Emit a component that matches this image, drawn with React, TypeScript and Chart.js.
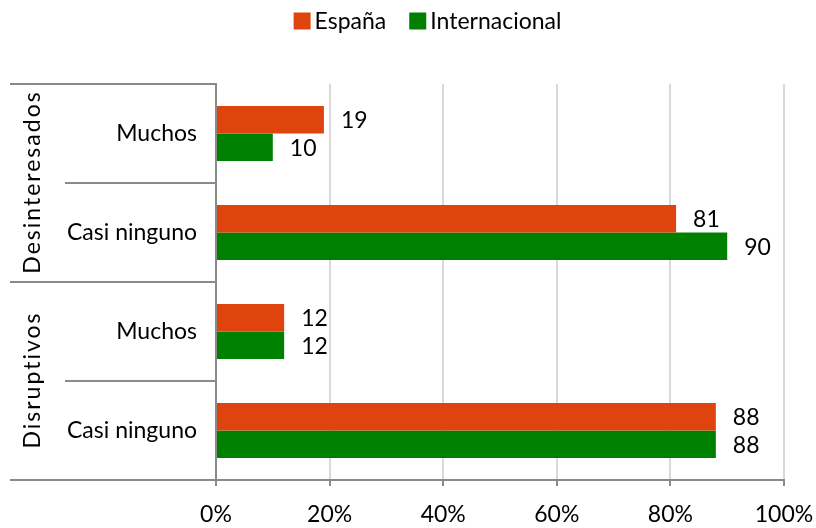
import { useEffect, useRef } from "react";
import { Chart, registerables } from "chart.js";

Chart.register(...registerables);

// ---- data ----
const categories = ["Muchos", "Casi ninguno", "Muchos", "Casi ninguno"];
const groups = ["Desinteresados", "Disruptivos"];
const groupSizes = [2, 2];
const seriesNames = ["España", "Internacional"];
const espana = [19, 81, 12, 88];
const internacional = [10, 90, 12, 88];
const xTicks = [0, 20, 40, 60, 80, 100];

// ---- style ----
const FONT = "Lato, 'Open Sans', sans-serif";
const AXIS_GRAY = "#8a8a8a";
const GRID_GRAY = "#d9d9d9";
const COLORS = ["#E0440E", "#008000"];

const legendPlugin = {
  id: "customLegend",
  afterDraw(chart: any) {
    const ctx = chart.ctx as CanvasRenderingContext2D;
    ctx.save();
    ctx.font = `23px ${FONT}`;
    const items = chart.data.datasets.map((d: any) => ({
      text: d.label as string,
      color: d.backgroundColor as string,
      w: ctx.measureText(d.label).width,
    }));
    const box = 17, gap = 4, itemGap = 23;
    const total =
      items.reduce((s: number, it: any) => s + box + gap + it.w, 0) +
      itemGap * (items.length - 1);
    let x = 427.5 - total / 2;
    const cy = 21;
    items.forEach((it: any) => {
      ctx.fillStyle = it.color;
      ctx.fillRect(x, cy - 8.5, box, box);
      ctx.fillStyle = "#000";
      ctx.textBaseline = "middle";
      ctx.textAlign = "left";
      ctx.fillText(it.text, x + box + gap, cy + 1);
      x += box + gap + it.w + itemGap;
    });
    ctx.restore();
  },
};

const structurePlugin = {
  id: "groupStructure",
  afterDraw(chart: any) {
    const ctx = chart.ctx as CanvasRenderingContext2D;
    const y = chart.scales.y;
    const left = chart.chartArea.left;
    const outerX = 10, innerX = 65;
    const boundary = (i: number) => y.getPixelForValue(i - 0.5);
    ctx.save();
    ctx.strokeStyle = AXIS_GRAY;
    ctx.lineWidth = 2;
    const line = (x0: number, yy: number) => {
      ctx.beginPath();
      ctx.moveTo(x0, yy);
      ctx.lineTo(left, yy);
      ctx.stroke();
    };
    let idx = 0;
    groups.forEach((g, gi) => {
      const size = groupSizes[gi];
      line(outerX, boundary(idx));
      for (let k = 1; k < size; k++) line(innerX, boundary(idx + k));
      const cy = (boundary(idx) + boundary(idx + size)) / 2;
      ctx.save();
      ctx.translate(33, cy);
      ctx.rotate(-Math.PI / 2);
      ctx.font = `23px ${FONT}`;
      (ctx as any).letterSpacing = "2px";
      ctx.fillStyle = "#000";
      ctx.textAlign = "center";
      ctx.textBaseline = "middle";
      ctx.fillText(g, 1, 0);
      ctx.restore();
      idx += size;
    });
    line(outerX, boundary(idx));
    ctx.restore();
  },
};

const valueLabelPlugin = {
  id: "valueLabels",
  afterDatasetsDraw(chart: any) {
    const ctx = chart.ctx as CanvasRenderingContext2D;
    ctx.save();
    ctx.font = `23px ${FONT}`;
    ctx.fillStyle = "#000";
    ctx.textAlign = "left";
    ctx.textBaseline = "middle";
    chart.data.datasets.forEach((ds: any, di: number) => {
      const meta = chart.getDatasetMeta(di);
      meta.data.forEach((el: any, i: number) => {
        ctx.fillText(String(ds.data[i]), el.x + 17, el.y + 1);
      });
    });
    ctx.restore();
  },
};

export default function App() {
  const ref = useRef<HTMLCanvasElement | null>(null);

  useEffect(() => {
    if (!ref.current) return;
    const font = { family: FONT, size: 23 };
    const chart = new Chart(ref.current, {
      type: "bar",
      data: {
        labels: categories,
        datasets: [
          { label: seriesNames[0], data: espana, backgroundColor: COLORS[0] },
          { label: seriesNames[1], data: internacional, backgroundColor: COLORS[1] },
        ],
      },
      options: {
        indexAxis: "y",
        responsive: false,
        animation: false,
        layout: { padding: { top: 84, right: 32, left: 0, bottom: 0 } },
        datasets: { bar: { categoryPercentage: 0.556, barPercentage: 1 } },
        plugins: { legend: { display: false }, tooltip: { enabled: false } },
        scales: {
          x: {
            min: 0,
            max: 100,
            afterBuildTicks: (s: any) => {
              s.ticks = xTicks.map((v) => ({ value: v }));
            },
            ticks: {
              callback: (v: any) => v + "%",
              font,
              color: "#000",
              padding: 15,
              maxRotation: 0,
              autoSkip: false,
            },
            grid: {
              color: (c: any) =>
                c.tick && c.tick.value === 0 ? "rgba(0,0,0,0)" : GRID_GRAY,
              lineWidth: 2,
              tickColor: AXIS_GRAY,
              tickLength: 6,
              tickWidth: 2,
            },
            border: { color: AXIS_GRAY, width: 2 },
            afterFit: (s: any) => {
              s.height = 48;
              s.paddingLeft = 0;
              s.paddingRight = 0;
            },
          },
          y: {
            ticks: { font, color: "#000", padding: 19 },
            grid: { display: false, drawTicks: false },
            border: { color: AXIS_GRAY, width: 2 },
            afterFit: (s: any) => {
              s.width = 216;
              s.paddingTop = 0;
              s.paddingBottom = 0;
            },
          },
        },
      } as any,
      plugins: [legendPlugin, structurePlugin, valueLabelPlugin],
    });
    return () => chart.destroy();
  }, []);

  return (
    <div style={{ position: "absolute", left: 0, top: 0, width: 816, height: 528 }}>
      <canvas ref={ref} width={816} height={528} style={{ display: "block" }} />
    </div>
  );
}
